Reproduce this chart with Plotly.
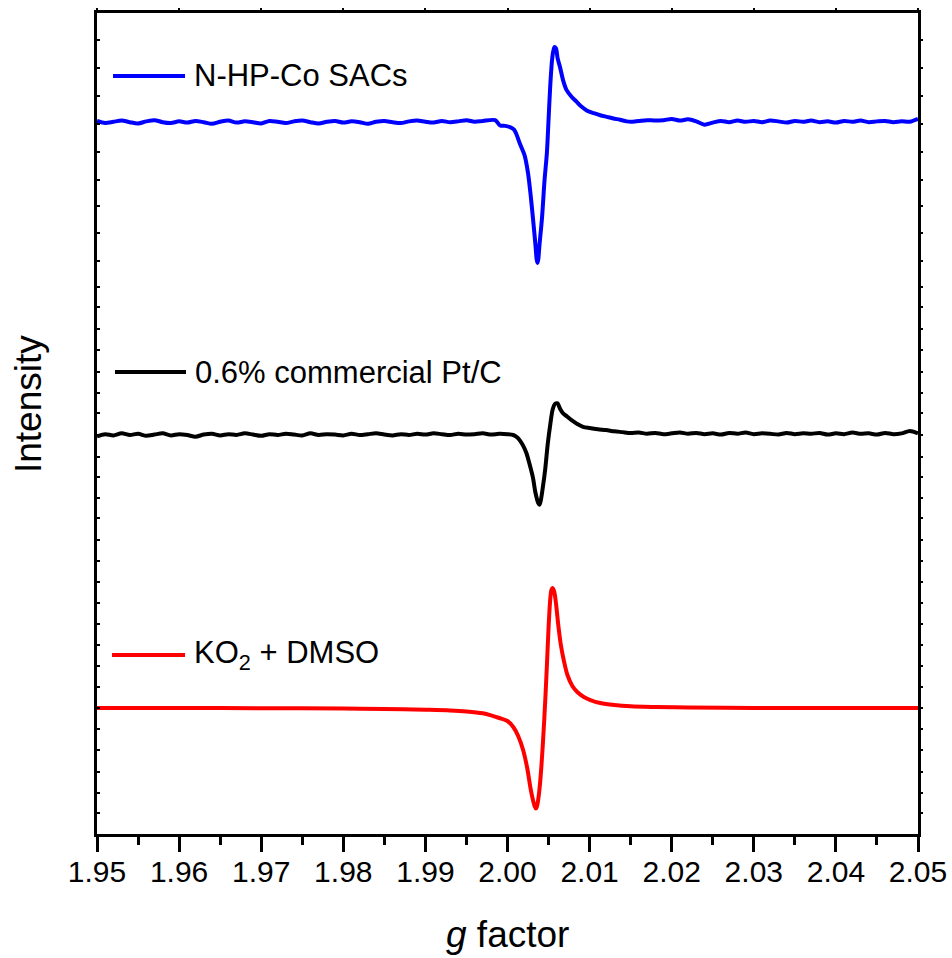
import numpy as np
import plotly.graph_objects as go

FONT = "Liberation Sans, Arial, sans-serif"

# ---- N-HP-Co SACs (blue) ----
BLUE_LEFT_START = 1.950
BLUE_LEFT_Y = [
    86.85, 86.60, 86.75, 86.90, 86.70, 86.55, 86.80, 86.95, 86.70, 86.60,
    86.80, 86.65, 86.85, 86.70, 86.50, 86.75, 86.90, 86.65, 86.80, 86.70,
    86.55, 86.85, 86.75, 86.60, 86.80, 86.90, 86.70, 86.55, 86.75, 86.85,
    86.65, 86.80, 86.70, 86.50, 86.75, 86.85, 86.70, 86.60, 86.80, 86.90,
    86.75, 86.65, 86.85, 86.70, 86.80, 86.95, 86.75, 86.85,
]
BLUE_MID_G = [
    1.9985, 1.9991, 1.9997, 2.0003, 2.0008, 2.0011, 2.0015, 2.0021, 2.0025, 2.0028,
    2.0031, 2.0034, 2.00355, 2.00365, 2.00375, 2.0039, 2.0042, 2.0045, 2.0048, 2.0050,
    2.0052, 2.00545, 2.0057, 2.0059, 2.0061, 2.0064, 2.0068, 2.0072, 2.0078, 2.0084,
    2.0090, 2.0097, 2.0105, 2.0113, 2.0121, 2.0129, 2.0137, 2.0145, 2.0150, 2.0160,
    2.0170, 2.0180,
]
BLUE_MID_Y = [
    86.95, 86.30, 86.25, 86.10, 85.80, 85.20, 84.10, 82.60, 80.50, 78.00,
    75.00, 71.80, 70.00, 69.55, 70.00, 71.80, 75.00, 79.50, 83.00, 87.00,
    91.00, 94.50, 95.85, 95.70, 94.50, 93.40, 91.70, 90.60, 89.80, 89.20,
    88.60, 88.10, 87.80, 87.55, 87.35, 87.15, 87.00, 86.80, 86.75, 86.85,
    86.95, 86.90,
]
BLUE_RIGHT_START = 2.019
BLUE_RIGHT_Y = [
    86.95, 87.10, 86.90, 87.05, 86.80, 86.40, 86.65, 86.85, 86.70, 86.90,
    86.75, 86.85, 86.70, 86.90, 86.80, 86.65, 86.85, 86.75, 86.90, 86.70,
    86.80, 86.65, 86.85, 86.75, 86.90, 86.70, 86.80, 86.85, 86.70, 86.80,
    86.75, 87.10,
]

# ---- 0.6% commercial Pt/C (black) ----
BLACK_LEFT_START = 1.950
BLACK_LEFT_Y = [
    48.45, 48.70, 48.55, 48.80, 48.60, 48.75, 48.50, 48.65, 48.80, 48.55,
    48.70, 48.60, 48.40, 48.65, 48.75, 48.55, 48.70, 48.60, 48.80, 48.65,
    48.50, 48.70, 48.60, 48.75, 48.65, 48.55, 48.80, 48.60, 48.70, 48.65,
    48.55, 48.75, 48.60, 48.70, 48.80, 48.65, 48.55, 48.70, 48.60, 48.75,
    48.65, 48.80, 48.70, 48.60, 48.75, 48.65, 48.70, 48.80, 48.65, 48.75,
]
BLACK_MID_G = [
    2.0000, 2.0007, 2.0012, 2.0015, 2.0019, 2.0023, 2.0027, 2.0031, 2.0034, 2.00375,
    2.0039, 2.00405, 2.0043, 2.0046, 2.0049, 2.0052, 2.0055, 2.0058, 2.0061, 2.0064,
    2.0068, 2.0072, 2.0078, 2.0084, 2.0092, 2.0100, 2.0110, 2.0120, 2.0130,
]
BLACK_MID_Y = [
    48.70, 48.60, 48.30, 47.95, 47.30, 46.40, 45.00, 43.40, 41.60, 40.30,
    40.10, 40.60, 42.20, 44.50, 47.50, 49.80, 51.70, 52.40, 52.45, 51.80,
    51.20, 50.90, 50.40, 50.00, 49.60, 49.45, 49.30, 49.20, 49.05,
]
BLACK_RIGHT_START = 2.014
BLACK_RIGHT_Y = [
    48.95, 48.85, 48.90, 48.75, 48.85, 48.70, 48.80, 48.90, 48.75, 48.85,
    48.70, 48.80, 48.65, 48.85, 48.75, 48.90, 48.70, 48.80, 48.75, 48.65,
    48.85, 48.70, 48.80, 48.75, 48.85, 48.65, 48.80, 48.70, 48.90, 48.75,
    48.80, 48.65, 48.85, 48.70, 48.80, 49.10, 48.80,
]

# ---- KO2 + DMSO (red) ----
RED_G = [
    1.950, 1.960, 1.970, 1.980, 1.985, 1.990, 1.993, 1.995, 1.997, 1.998,
    1.999, 2.000, 2.0007, 2.0013, 2.0019, 2.0024, 2.0028, 2.0031, 2.0033, 2.00345,
    2.0036, 2.0038, 2.0040, 2.0043, 2.0046, 2.0048, 2.0050, 2.0052, 2.00535, 2.0055,
    2.0057, 2.0059, 2.0062, 2.0065, 2.0069, 2.0073, 2.0079, 2.0085, 2.0093, 2.0101,
    2.0113, 2.0130, 2.0150, 2.0180, 2.0220, 2.0300, 2.0400, 2.0500,
]
RED_Y = [
    15.35, 15.35, 15.32, 15.29, 15.23, 15.13, 15.05, 14.93, 14.70, 14.45,
    14.13, 13.76, 13.03, 11.94, 10.23, 8.04, 5.60, 4.14, 3.41, 3.11,
    3.41, 4.63, 6.58, 10.84, 16.32, 20.58, 25.09, 28.50, 29.72, 29.96,
    29.48, 28.14, 25.33, 23.02, 20.95, 19.37, 18.03, 17.30, 16.69, 16.32,
    15.96, 15.71, 15.55, 15.47, 15.41, 15.35, 15.35, 15.35,
]

X_TICKS = [1.95, 1.96, 1.97, 1.98, 1.99, 2.00, 2.01, 2.02, 2.03, 2.04, 2.05]
X_TICK_TEXT = ["1.95", "1.96", "1.97", "1.98", "1.99", "2.00", "2.01", "2.02", "2.03", "2.04", "2.05"]
Y_TICKS = [
    96.71, 93.30, 89.89, 86.48, 83.07, 79.70, 76.49, 73.20, 69.79, 66.63,
    64.19, 61.51, 58.95, 56.27, 53.71, 51.28, 48.60, 45.92, 43.48, 40.93,
    38.49, 35.81, 33.25, 30.69, 28.14, 25.58, 23.02, 20.46, 17.90, 15.35,
    12.79, 10.23, 7.55, 4.99, 2.56,
]

SERIES = [
    ("N-HP-Co SACs", "#0000ff"),
    ("0.6% commercial Pt/C", "#000000"),
    ("KO<sub>2</sub> + DMSO", "#ff0000"),
]


def grid(start, n, step=0.001):
    return [round(start + step * i, 4) for i in range(n)]


blue_g = grid(BLUE_LEFT_START, len(BLUE_LEFT_Y)) + BLUE_MID_G + grid(BLUE_RIGHT_START, len(BLUE_RIGHT_Y))
blue_y = BLUE_LEFT_Y + BLUE_MID_Y + BLUE_RIGHT_Y
black_g = grid(BLACK_LEFT_START, len(BLACK_LEFT_Y)) + BLACK_MID_G + grid(BLACK_RIGHT_START, len(BLACK_RIGHT_Y))
black_y = BLACK_LEFT_Y + BLACK_MID_Y + BLACK_RIGHT_Y

curves = [(blue_g, blue_y), (black_g, black_y), (RED_G, RED_Y)]

fig = go.Figure()
for (name, color), (gx, gy) in zip(SERIES, curves):
    fig.add_trace(go.Scatter(
        x=gx, y=gy, mode="lines", name=name,
        line=dict(color=color, width=4, shape="spline", smoothing=0.8),
        showlegend=False,
    ))

# invisible helper trace so the mirrored top/right axes get drawn
fig.add_trace(go.Scatter(x=[1.95], y=[0], xaxis="x2", yaxis="y2",
                         mode="markers", marker=dict(opacity=0), showlegend=False,
                         hoverinfo="skip"))

fig.update_layout(
    width=952, height=958,
    margin=dict(l=97, r=34, t=13, b=124, autoexpand=False),
    paper_bgcolor="white", plot_bgcolor="white",
    font=dict(family=FONT, color="black"),
    xaxis=dict(
        range=[1.95, 2.05], tickvals=X_TICKS, ticktext=X_TICK_TEXT,
        ticks="outside", ticklen=15, tickwidth=2.5, tickcolor="black",
        minor=dict(dtick=0.005, tick0=1.95, ticks="outside", ticklen=8, tickwidth=2.5, tickcolor="black"),
        showline=True, linecolor="black", linewidth=2.5,
        showgrid=False, zeroline=False, automargin=False,
        ticklabelstandoff=-6,
        tickfont=dict(size=30, family=FONT),
    ),
    yaxis=dict(
        range=[0, 100], tickvals=Y_TICKS, showticklabels=False,
        ticks="inside", ticklen=3, tickwidth=1.5, tickcolor="black",
        showline=True, linecolor="black", linewidth=2.5,
        showgrid=False, zeroline=False, automargin=False,
    ),
    xaxis2=dict(
        overlaying="x", side="top", matches="x", range=[1.95, 2.05],
        tickvals=X_TICKS, showticklabels=False,
        ticks="outside", ticklen=2, tickwidth=1.5, tickcolor="black",
        showline=True, linecolor="black", linewidth=2.5,
        showgrid=False, zeroline=False, automargin=False,
    ),
    yaxis2=dict(
        overlaying="y", side="right", matches="y", range=[0, 100],
        tickvals=Y_TICKS, showticklabels=False,
        ticks="outside", ticklen=2, tickwidth=1.5, tickcolor="black",
        showline=True, linecolor="black", linewidth=2.5,
        showgrid=False, zeroline=False, automargin=False,
    ),
)

# Legend keys drawn inside the plot next to each spectrum
LEGEND_POS = [(0.0195, 0.1072, 0.9233), (0.0219, 0.1084, 0.5627), (0.0183, 0.1072, 0.2180)]
for (name, color), (x0, x1, yk) in zip(SERIES, LEGEND_POS):
    fig.add_shape(type="line", xref="paper", yref="paper", x0=x0, x1=x1, y0=yk, y1=yk,
                  line=dict(color=color, width=4))
    fig.add_annotation(xref="paper", yref="paper", x=x1 + 0.009, y=yk, text=name,
                       showarrow=False, xanchor="left", yanchor="middle",
                       font=dict(size=31, family=FONT, color="black"))

fig.add_annotation(xref="paper", yref="paper", x=-0.084, y=0.5237, text="Intensity",
                   textangle=-90, showarrow=False, xanchor="center", yanchor="middle",
                   font=dict(size=37, family=FONT, color="black"))
fig.add_annotation(xref="paper", yref="paper", x=0.5, y=-0.123, text="<i>g</i> factor",
                   showarrow=False, xanchor="center", yanchor="middle",
                   font=dict(size=37, family=FONT, color="black"))

fig.write_html("out.html")
